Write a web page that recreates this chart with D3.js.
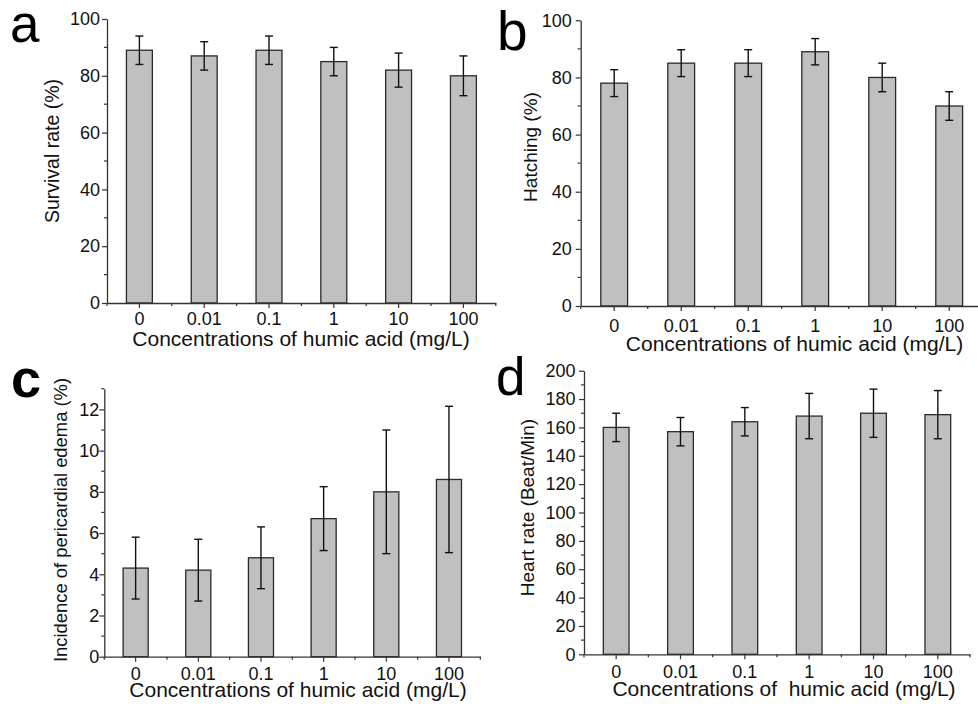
<!DOCTYPE html>
<html>
<head>
<meta charset="utf-8">
<script src="https://cdn.jsdelivr.net/npm/d3@7"></script>
<style>
  html, body { margin: 0; padding: 0; background: #fff; }
  svg { display: block; font-family: "Liberation Sans", Arial, sans-serif; }
  text { white-space: pre; }
</style>
</head>
<body>
<svg id="chart" width="978" height="704"></svg>
<script>
// Humic acid concentrations (mg/L)
const categories = ["0", "0.01", "0.1", "1", "10", "100"];

// (a) survival rate, %
const survival = [89, 87, 89, 85, 82, 80];
const survivalErr = [5, 5, 5, 5, 6, 7];

// (b) hatching, %
const hatching = [78, 85, 85, 89, 80, 70];
const hatchingErr = [4.7, 4.7, 4.7, 4.6, 5, 5];

// (c) incidence of pericardial edema, %
const edema = [4.3, 4.2, 4.8, 6.7, 8.0, 8.6];
const edemaErr = [1.5, 1.5, 1.5, 1.55, 3.0, 3.55];

// (d) heart rate, beats per minute
const heartRate = [160, 157, 164, 168, 170, 169];
const heartRateErr = [10, 10, 10, 16, 17, 17];

// y-axis tick values
const ticksA = [0, 20, 40, 60, 80, 100];
const ticksC = [0, 2, 4, 6, 8, 10, 12];
const ticksD = [0, 20, 40, 60, 80, 100, 120, 140, 160, 180, 200];

const xTitle = "Concentrations of humic acid (mg/L)";
const xTitleD = "Concentrations of  humic acid (mg/L)";

const panels = [
  { letter: "a", bold: false, values: survival, errs: survivalErr, max: 100, ticks: ticksA, minorStep: 10,
    x0: 107, x1: 495.8, y0: 303, y1: 19, yTitle: "Survival rate (%)", yTitleX: 59, yTitleY: 151, yTitleSize: 19.5,
    xTitle: xTitle, xTitleX: 301, xTitleY: 346, xLabDy: 22, yLabGap: 7,
    letterX: 10, letterY: 41.5, letterSize: 53 },
  { letter: "b", bold: false, values: hatching, errs: hatchingErr, max: 100, ticks: ticksA, minorStep: 10,
    x0: 580.7, x1: 982.7, y0: 306, y1: 20.3, yTitle: "Hatching (%)", yTitleX: 537, yTitleY: 147, yTitleSize: 19,
    xTitle: xTitle, xTitleX: 794.5, xTitleY: 350.5, xLabDy: 25.5, yLabGap: 9,
    letterX: 497, letterY: 50, letterSize: 55 },
  { letter: "c", bold: true, values: edema, errs: edemaErr, max: 13, ticks: ticksC, minorStep: 1,
    x0: 104.3, x1: 480.3, y0: 656.7, y1: 388.8, yTitle: "Incidence of pericardial edema (%)", yTitleX: 67, yTitleY: 520, yTitleSize: 18.4,
    xTitle: xTitle, xTitleX: 298, xTitleY: 696.7, xLabDy: 23.3, yLabGap: 5,
    letterX: 11, letterY: 396.5, letterSize: 54 },
  { letter: "d", bold: false, values: heartRate, errs: heartRateErr, max: 200, ticks: ticksD, minorStep: 10,
    x0: 584, x1: 970, y0: 654.3, y1: 370.7, yTitle: "Heart rate (Beat/Min)", yTitleX: 534, yTitleY: 507.5, yTitleSize: 19,
    xTitle: xTitleD, xTitleX: 784, xTitleY: 696, xLabDy: 23.7, yLabGap: 8.5,
    letterX: 496, letterY: 395, letterSize: 53 }
];

const svg = d3.select("#chart");
const axisColor = "#333";

panels.forEach(p => {
  const g = svg.append("g");

  const x = d3.scaleBand()
    .domain(categories)
    .range([p.x0, p.x1])
    .paddingInner(0.6)
    .paddingOuter(0.3);

  const y = d3.scaleLinear().domain([0, p.max]).range([p.y0, p.y1]);

  // bars
  g.selectAll("rect.bar")
    .data(p.values)
    .join("rect")
    .attr("class", "bar")
    .attr("x", (d, i) => x(categories[i]))
    .attr("width", x.bandwidth())
    .attr("y", d => y(d))
    .attr("height", d => y(0) - y(d))
    .attr("fill", "#c0c0c0")
    .attr("stroke", "#2a2a2a")
    .attr("stroke-width", 1.3);

  // error bars
  const cap = 4;
  const eg = g.append("g").attr("stroke", "#111").attr("stroke-width", 1.4).attr("fill", "none");
  p.values.forEach((v, i) => {
    const cx = x(categories[i]) + x.bandwidth() / 2;
    const hi = y(v + p.errs[i]);
    const lo = y(v - p.errs[i]);
    eg.append("line").attr("x1", cx).attr("x2", cx).attr("y1", hi).attr("y2", lo);
    eg.append("line").attr("x1", cx - cap).attr("x2", cx + cap).attr("y1", hi).attr("y2", hi);
    eg.append("line").attr("x1", cx - cap).attr("x2", cx + cap).attr("y1", lo).attr("y2", lo);
  });

  // y axis: major ticks with labels, minor ticks between
  const yAxis = d3.axisLeft(y).tickValues(p.ticks).tickSize(5).tickPadding(p.yLabGap - 5).tickSizeOuter(0);
  const ya = g.append("g").attr("transform", `translate(${p.x0},0)`).call(yAxis);
  const minor = d3.range(p.minorStep, p.max + 0.001, p.minorStep * 2);
  ya.selectAll("line.minor")
    .data(minor)
    .join("line")
    .attr("class", "minor")
    .attr("x1", 0).attr("x2", -3)
    .attr("y1", d => y(d)).attr("y2", d => y(d));

  // x axis: ticks at category centres with labels, minor ticks at band edges
  const xAxis = d3.axisBottom(x).tickSize(5).tickSizeOuter(0).tickPadding(0);
  const xa = g.append("g").attr("transform", `translate(0,${p.y0})`).call(xAxis);
  xa.selectAll(".tick text").attr("dy", null).attr("y", p.xLabDy);
  const edges = d3.range(0, categories.length + 1).map(i => p.x0 + i * x.step());
  xa.selectAll("line.minor")
    .data(edges)
    .join("line")
    .attr("class", "minor")
    .attr("x1", d => d).attr("x2", d => d)
    .attr("y1", 0).attr("y2", 3);

  [ya, xa].forEach(a => {
    a.select(".domain").attr("stroke", axisColor).attr("stroke-width", 1.3);
    a.selectAll("line").attr("stroke", axisColor).attr("stroke-width", 1.2);
    a.selectAll("text")
      .attr("fill", "#111")
      .attr("font-family", "'Liberation Sans', Arial, sans-serif")
      .attr("font-size", 18);
  });

  // axis titles
  g.append("text")
    .attr("transform", `translate(${p.yTitleX},${p.yTitleY}) rotate(-90)`)
    .attr("text-anchor", "middle")
    .attr("font-size", p.yTitleSize)
    .attr("fill", "#111")
    .text(p.yTitle);

  g.append("text")
    .attr("x", p.xTitleX)
    .attr("y", p.xTitleY)
    .attr("text-anchor", "middle")
    .attr("font-size", 21)
    .attr("fill", "#111")
    .text(p.xTitle);

  // panel letter
  g.append("text")
    .attr("x", p.letterX)
    .attr("y", p.letterY)
    .attr("font-size", p.letterSize)
    .attr("font-weight", p.bold ? "bold" : "normal")
    .attr("fill", "#000")
    .text(p.letter);
});
</script>
</body>
</html>
